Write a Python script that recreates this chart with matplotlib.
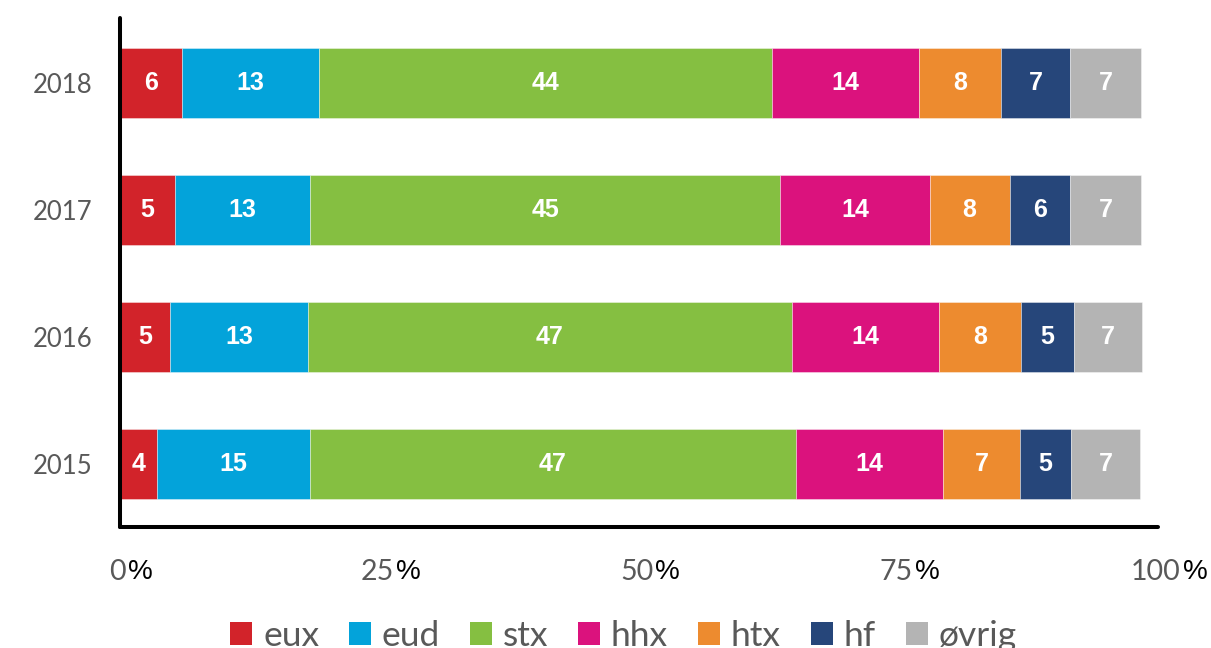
import matplotlib
matplotlib.use("Agg")
import matplotlib.pyplot as plt
import matplotlib.transforms as mtransforms
from matplotlib.patches import Patch
import numpy as np

years = ["2015", "2016", "2017", "2018"]
series = ["eux", "eud", "stx", "hhx", "htx", "hf", "øvrig"]
colors = ["#D2232A", "#03A3DA", "#85BF41", "#DB127D", "#ED8B2F", "#26467A", "#B4B4B4"]

# percentages per year (rows: 2015..2018), columns follow `series`
eux = [3.6, 4.8, 5.3, 6.0]
eud = [14.7, 13.3, 13.0, 13.2]
stx = [46.8, 46.6, 45.3, 43.6]
hhx = [14.2, 14.2, 14.4, 14.2]
htx = [7.4, 7.9, 7.7, 7.9]
hf = [4.9, 5.1, 5.8, 6.6]
ovrig = [6.7, 6.6, 6.9, 6.9]

xticks = [0, 25, 50, 75, 100]
xtick_numbers = ["0", "25", "50", "75", "100"]

data = [eux, eud, stx, hhx, htx, hf, ovrig]

W, H = 1211, 648
fig = plt.figure(figsize=(W / 100, H / 100), dpi=100)
ax = fig.add_axes([120 / W, 1 - 527 / H, (1158 - 120) / W, (527 - 18) / H])

y = np.arange(len(years))
left = np.zeros(len(years))
for vals, name, col in zip(data, series, colors):
    vals = np.array(vals)
    ax.barh(y, vals, left=left, height=0.551, color=col, label=name,
            edgecolor=(1, 1, 1, 0.45), linewidth=0.6)
    for yi, (l, v) in enumerate(zip(left, vals)):
        ax.text(l + v / 2, yi, f"{int(round(v))}", ha="center", va="center",
                color="white", fontsize=18, fontweight="bold",
                family="Liberation Sans")
    left += vals

ax.set_xlim(0, 100)
ax.set_ylim(-0.496, 3.512)
ax.set_yticks(y)
ax.set_yticklabels(years, fontsize=18.5, color="#595959", family="Lato")
ax.tick_params(axis="y", length=0, pad=20)
ax.set_xticks([])
for s in ["top", "right"]:
    ax.spines[s].set_visible(False)
for s in ["left", "bottom"]:
    ax.spines[s].set_linewidth(2.9)
    ax.spines[s].set_color("black")
    ax.spines[s].set_capstyle("round")

# x tick labels: grey digits + black percent sign, centred a little right of tick
trans = mtransforms.blended_transform_factory(ax.transData, fig.transFigure)
ylab = 1 - 572 / H
digit_texts = []
pct_texts = []
for xv, lab in zip(xticks, xtick_numbers):
    td = fig.text(0, 0, lab, fontsize=20.5, color="#595959", family="Lato",
                  ha="left", va="center")
    tp = fig.text(0, 0, "%", fontsize=20, color="black", family="Liberation Sans",
                  ha="left", va="center")
    digit_texts.append(td)
    pct_texts.append(tp)
fig.canvas.draw()
r = fig.canvas.get_renderer()
gap = 2
for xv, td, tp in zip(xticks, digit_texts, pct_texts):
    wd = td.get_window_extent(r).width
    wp = tp.get_window_extent(r).width
    total = wd + gap + wp
    cx, _ = trans.transform((xv, ylab))
    cx += 11
    x0 = cx - total / 2
    yp = ylab * H
    td.set_position((x0 / W, yp / H))
    tp.set_position(((x0 + wd + gap) / W, yp / H))

handles = [Patch(facecolor=c, edgecolor="none") for c in colors]
fig.legend(handles, series, loc="center", bbox_to_anchor=(623.5 / W, 1 - 636 / H),
           ncol=len(series), frameon=False,
           prop={"family": "Lato", "size": 25.5},
           labelcolor="#595959", handlelength=0.62, handleheight=0.62,
           handletextpad=0.3, columnspacing=0.85, borderpad=0, borderaxespad=0)

fig.savefig("out.png", dpi=100)
